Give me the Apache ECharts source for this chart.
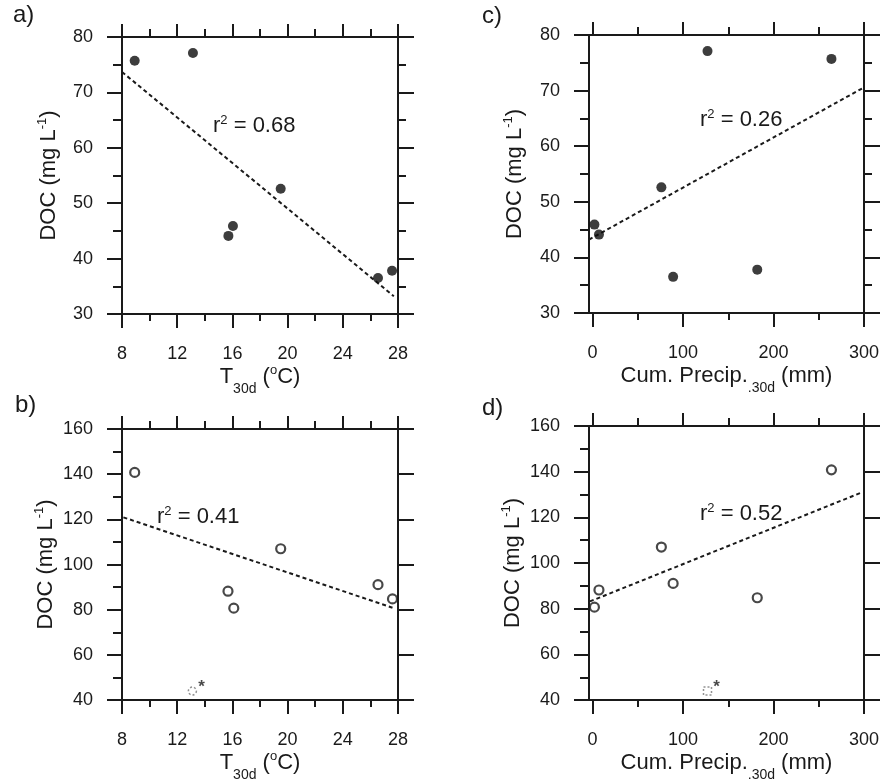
<!DOCTYPE html>
<html>
<head>
<meta charset="utf-8">
<script src="https://cdn.jsdelivr.net/npm/echarts@6/dist/echarts.min.js"></script>
<style>html,body{margin:0;padding:0;background:#fff}#c{width:884px;height:783px}</style>
</head>
<body>
<div id="c"></div>
<script>
// ---- data ----
const tempFilled   = [8.92, 13.14, 15.71, 16.04, 19.5, 26.55, 27.57];
const precipFilled = [264, 127, 7, 2, 76, 89, 182];
const docFilled    = [75.7, 77.1, 44.1, 45.9, 52.6, 36.5, 37.8];

const tempOpen   = [8.92, 19.5, 15.68, 16.1, 26.55, 27.6];
const precipOpen = [264, 76, 7, 2, 89, 182];
const docOpen    = [140.8, 107, 88.2, 80.7, 91.1, 84.8];

const tempOutlier   = [13.1];
const precipOutlier = [127];
const docOutlier    = [44];

const trendA_x = [8, 27.7],   trendA_y = [73.7, 33.2];
const trendB_x = [8.1, 27.6], trendB_y = [120.9, 80.9];
const trendC_x = [-4, 298],   trendC_y = [43.2, 70.4];
const trendD_x = [-3, 298],   trendD_y = [83.2, 131];

const r2Labels = ['0.68', '0.41', '0.26', '0.52'];

const tempTicks   = [8, 12, 16, 20, 24, 28];
const tempMinor   = [10, 14, 18, 22, 26];
const precipTicks = [0, 100, 200, 300];
const precipMinor = [50, 150, 250];
const docTicksTop    = [30, 40, 50, 60, 70, 80];
const docMinorTop    = [35, 45, 55, 65, 75];
const docTicksBottom = [40, 60, 80, 100, 120, 140, 160];
const docMinorBottom = [50, 70, 90, 110, 130, 150];

// ---- styling / layout ----
const AX = '#1a1a1a';
const FONT = '"Liberation Sans", Arial, sans-serif';
const subRich = {
  sub: { fontSize: 14, fontFamily: FONT, color: AX, verticalAlign: 'bottom', lineHeight: 14, padding: [0, 0, -6, 0] },
  sup: { fontSize: 13, fontFamily: FONT, color: AX, verticalAlign: 'top', lineHeight: 13 }
};

const xAxes = [], yAxes = [], grids = [], series = [], graphics = [];

function mkAxis(dim, gi, pos, min, max, ticks, len, opts) {
  const a = {
    gridIndex: gi, type: 'value', position: pos, min: min, max: max,
    splitLine: { show: false },
    axisLine: { show: !!opts.line, onZero: false, lineStyle: { color: AX, width: 2 } },
    axisTick: { show: true, inside: false, length: len, customValues: ticks, lineStyle: { color: AX, width: 2 } },
    axisLabel: opts.label ? { show: true, customValues: ticks, fontSize: 18, fontFamily: FONT, color: AX, margin: opts.margin } : { show: false },
    axisPointer: { show: false }
  };
  if (opts.name) {
    a.name = opts.name;
    a.nameLocation = 'middle';
    a.nameGap = opts.nameGap;
    a.nameTextStyle = { fontSize: 22, fontFamily: FONT, color: AX, lineHeight: 26, rich: subRich };
  }
  (dim === 'x' ? xAxes : yAxes).push(a);
  return (dim === 'x' ? xAxes : yAxes).length - 1;
}

function panel(p) {
  const gi = grids.length;
  grids.push({ left: p.rect[0], top: p.rect[1], width: p.rect[2], height: p.rect[3], containLabel: false });
  const xb = mkAxis('x', gi, 'bottom', p.xMin, p.xMax, p.xTicks, 14, { line: true, label: true, margin: 31, name: p.xName, nameGap: 49 });
  mkAxis('x', gi, 'bottom', p.xMin, p.xMax, p.xMinor, 7, {});
  mkAxis('x', gi, 'top', p.xMin, p.xMax, p.xTicks, 13, { line: true });
  mkAxis('x', gi, 'top', p.xMin, p.xMax, p.xMinor, 8, {});
  const yl = mkAxis('y', gi, 'left', p.yMin, p.yMax, p.yTicks, 15, { line: true, label: true, margin: 29, name: 'DOC (mg L{sup|-1})', nameGap: p.yGap });
  mkAxis('y', gi, 'left', p.yMin, p.yMax, p.yMinor, 9, {});
  mkAxis('y', gi, 'right', p.yMin, p.yMax, p.yTicks, 16, { line: true });
  if (p.rightMinor) mkAxis('y', gi, 'right', p.yMin, p.yMax, p.yMinor, 8, {});

  series.push({
    type: 'line', xAxisIndex: xb, yAxisIndex: yl, silent: true, symbol: 'none', z: 2,
    data: p.trendX.map((x, i) => [x, p.trendY[i]]),
    lineStyle: { color: AX, width: 2, type: [4, 3] }
  });
  series.push({
    type: 'scatter', xAxisIndex: xb, yAxisIndex: yl, silent: true, z: 5,
    data: p.px.map((x, i) => [x, p.py[i]]),
    symbol: 'circle',
    symbolSize: p.open ? 9 : 10,
    itemStyle: p.open ? { color: '#fff', borderColor: AX, borderWidth: 2.2 } : { color: '#0d0d0d' }
  });
  if (p.ox) {
    series.push({
      type: 'scatter', xAxisIndex: xb, yAxisIndex: yl, silent: true, z: 5,
      data: p.ox.map((x, i) => [x, p.oy[i]]),
      symbol: p.oSymbol, symbolSize: 8,
      itemStyle: { color: '#fff', borderColor: '#777', borderWidth: 1.5, borderType: [2, 2] },
      label: { show: true, formatter: '*', position: 'right', distance: 1, offset: [0, -4], fontSize: 17, fontWeight: 'bold', fontFamily: FONT, color: AX }
    });
  }
  graphics.push({ type: 'text', left: p.tag[1], top: p.tag[2], style: { text: p.tag[0], fontSize: 24, fontFamily: FONT, fill: AX } });
  graphics.push({ type: 'text', left: p.r2pos[0], top: p.r2pos[1], style: {
    text: 'r{sup|2} = ' + p.r2, fontSize: 22, fontFamily: FONT, fill: AX, lineHeight: 24,
    rich: { sup: { fontSize: 13, fontFamily: FONT, fill: AX, verticalAlign: 'top', lineHeight: 13 } }
  } });
}

const tempName = 'T{sub|30d} ({sup|o}C)';
const precipName = 'Cum. Precip.{sub|.30d} (mm)';

panel({ rect: [122, 37, 276, 277], xMin: 8, xMax: 28, xTicks: tempTicks, xMinor: tempMinor, xName: tempName,
  yMin: 30, yMax: 80, yTicks: docTicksTop, yMinor: docMinorTop, yGap: 60, rightMinor: true,
  px: tempFilled, py: docFilled, open: false, trendX: trendA_x, trendY: trendA_y,
  tag: ['a)', 13, 3], r2: r2Labels[0], r2pos: [213, 114] });
panel({ rect: [122, 429, 276, 277], xMin: 8, xMax: 28, xTicks: tempTicks, xMinor: tempMinor, xName: tempName,
  yMin: 40, yMax: 160, yTicks: docTicksBottom, yMinor: docMinorBottom, yGap: 60, rightMinor: false,
  px: tempOpen, py: docOpen, open: true, trendX: trendB_x, trendY: trendB_y,
  ox: tempOutlier, oy: docOutlier, oSymbol: 'circle',
  tag: ['b)', 15, 393], r2: r2Labels[1], r2pos: [157, 505] });
panel({ rect: [589, 35, 275, 278], xMin: -4, xMax: 300, xTicks: precipTicks, xMinor: precipMinor, xName: precipName,
  yMin: 30, yMax: 80, yTicks: docTicksTop, yMinor: docMinorTop, yGap: 61, rightMinor: true,
  px: precipFilled, py: docFilled, open: false, trendX: trendC_x, trendY: trendC_y,
  tag: ['c)', 482, 4], r2: r2Labels[2], r2pos: [700, 108] });
panel({ rect: [589, 426, 275, 277], xMin: -4, xMax: 300, xTicks: precipTicks, xMinor: precipMinor, xName: precipName,
  yMin: 40, yMax: 160, yTicks: docTicksBottom, yMinor: docMinorBottom, yGap: 61, rightMinor: false,
  px: precipOpen, py: docOpen, open: true, trendX: trendD_x, trendY: trendD_y,
  ox: precipOutlier, oy: docOutlier, oSymbol: 'rect',
  tag: ['d)', 482, 396], r2: r2Labels[3], r2pos: [700, 502] });

const chart = echarts.init(document.getElementById('c'), null, { renderer: 'canvas' });
chart.setOption({
  animation: false,
  backgroundColor: '#fff',
  grid: grids, xAxis: xAxes, yAxis: yAxes, series: series, graphic: graphics
});
</script>
</body>
</html>
